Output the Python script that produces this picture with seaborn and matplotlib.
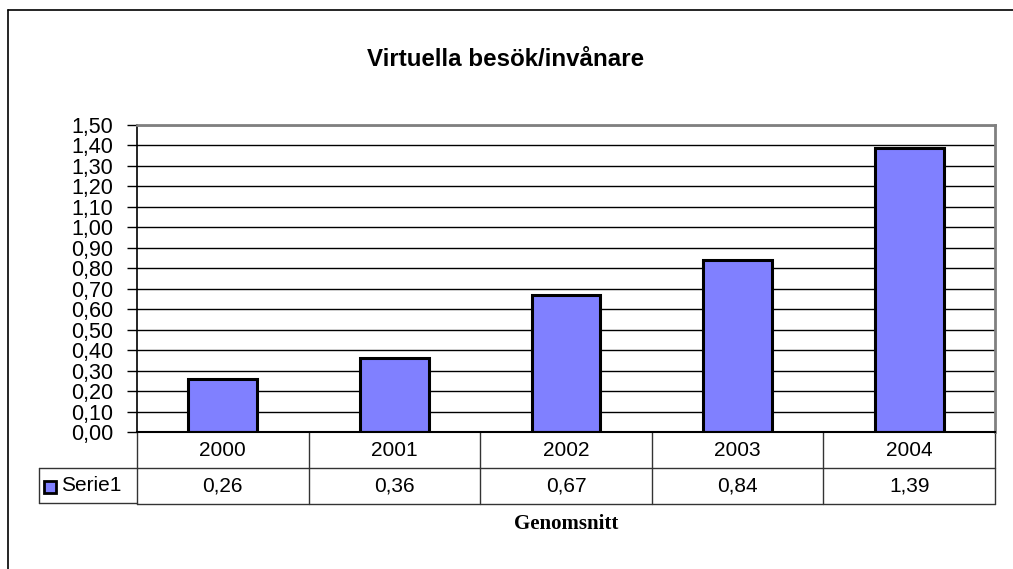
import matplotlib
matplotlib.use("Agg")
import matplotlib.pyplot as plt
import matplotlib.transforms as mtransforms
from matplotlib.lines import Line2D
from matplotlib.patches import Rectangle
from matplotlib.ticker import MultipleLocator, FuncFormatter
import pandas as pd
import seaborn as sns

title = "Virtuella besök/invånare"
years = ["2000", "2001", "2002", "2003", "2004"]
values = [0.26, 0.36, 0.67, 0.84, 1.39]
series_name = "Serie1"
table_label = "Genomsnitt"

bar_color = "#8080FF"
W, H = 1013, 569


def comma(v, pos=None):
    return f"{v:.2f}".replace(".", ",")


def main():
    sns.set_style("white")
    plt.rcParams["font.family"] = ["Liberation Sans", "DejaVu Sans"]
    plt.rcParams["text.color"] = "black"
    plt.rcParams["ytick.color"] = "black"
    plt.rcParams["ytick.labelcolor"] = "black"

    df = pd.DataFrame({"year": years, "value": values})

    fig = plt.figure(figsize=(W / 100, H / 100), dpi=100)
    ax = fig.add_axes([137 / W, 1 - 432 / H, 858 / W, 307 / H])

    sns.barplot(data=df, x="year", y="value", color=bar_color, saturation=1,
                edgecolor="black", linewidth=2.2, width=0.4, ax=ax, zorder=3)

    ax.set_ylim(0, 1.5)
    ax.set_xlim(-0.5, len(years) - 0.5)
    ax.yaxis.set_major_locator(MultipleLocator(0.1))
    ax.yaxis.set_major_formatter(FuncFormatter(comma))
    ax.grid(axis="y", color="black", linewidth=1, zorder=0)
    ax.tick_params(axis="y", length=7, width=1, color="black", labelcolor="black",
                   labelsize=15.5, pad=10, left=True)
    ax.set_xticks([])
    ax.set_xlabel("")
    ax.set_ylabel("")

    for side in ["top", "right"]:
        ax.spines[side].set_color("#808080")
        ax.spines[side].set_linewidth(2)
    ax.spines["left"].set_color("black")
    ax.spines["left"].set_linewidth(1.2)
    ax.spines["bottom"].set_color("black")
    ax.spines["bottom"].set_linewidth(1.5)
    ax.spines["bottom"].set_zorder(5)

    # data table under the plot
    trans = mtransforms.blended_transform_factory(ax.transData, ax.transAxes)
    row_h = 36 / 307
    y1 = -row_h
    y2 = -2 * row_h
    n = len(years)
    grid_kw = dict(transform=trans, clip_on=False, color="#333333", linewidth=1)
    ax.plot([-0.5, n - 0.5], [y1, y1], **grid_kw)
    ax.plot([-0.5, n - 0.5], [y2, y2], **grid_kw)
    for i in range(n + 1):
        ax.plot([i - 0.5, i - 0.5], [0, y2], **grid_kw)

    for i, (yr, v) in enumerate(zip(years, values)):
        ax.text(i, y1 / 2, yr, transform=trans, ha="center", va="center", fontsize=15)
        ax.text(i, (y1 + y2) / 2, comma(v), transform=trans, ha="center", va="center", fontsize=15)

    # legend cell at left of the series row
    axes_left = 137 / W
    cell_left = 39 / W
    fig_y1 = 1 - 468 / H
    fig_y2 = 1 - 503 / H
    fig.add_artist(Line2D([cell_left, axes_left], [fig_y1, fig_y1], color="#333333", linewidth=1))
    fig.add_artist(Line2D([cell_left, axes_left], [fig_y2, fig_y2], color="#333333", linewidth=1))
    fig.add_artist(Line2D([cell_left, cell_left], [fig_y1, fig_y2], color="#333333", linewidth=1))
    fig.add_artist(Rectangle((44 / W, 1 - 493 / H), 12 / W, 12 / H, facecolor=bar_color,
                             edgecolor="black", linewidth=2))
    fig.text(61 / W, (fig_y1 + fig_y2) / 2, series_name, ha="left", va="center", fontsize=15)

    fig.text(566 / W, 1 - 524 / H, table_label, ha="center", va="center", fontsize=15,
             fontweight="bold", family=["Liberation Serif", "DejaVu Serif"])

    fig.text(506 / W, 1 - 60 / H, title, ha="center", va="center", fontsize=17.4, fontweight="bold")

    # outer chart frame
    fig.add_artist(Line2D([8 / W, 1.0], [1 - 10 / H, 1 - 10 / H], color="black", linewidth=1.2))
    fig.add_artist(Line2D([8 / W, 8 / W], [0.0, 1 - 10 / H], color="black", linewidth=1.2))

    fig.savefig("out.png", dpi=100)


if __name__ == "__main__":
    main()
